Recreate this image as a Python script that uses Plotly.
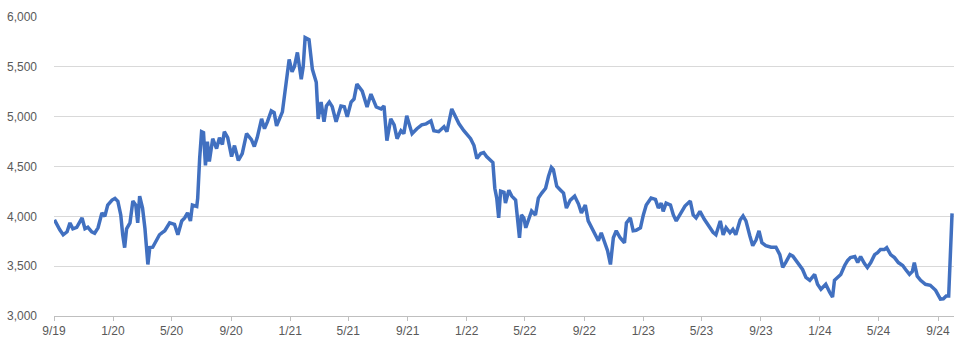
import plotly.graph_objects as go

dates = [
"2019-09-02","2019-09-07","2019-09-13","2019-09-20","2019-09-28","2019-10-04","2019-10-10","2019-10-18","2019-10-29","2019-11-04",
"2019-11-10","2019-11-18","2019-11-24","2019-12-01","2019-12-09","2019-12-15","2019-12-21","2019-12-30","2020-01-05","2020-01-11",
"2020-01-17","2020-01-21","2020-01-25","2020-01-29","2020-02-05","2020-02-11","2020-02-17","2020-02-21","2020-02-25","2020-03-02",
"2020-03-07","2020-03-13","2020-03-17","2020-03-23","2020-03-31","2020-04-06","2020-04-11","2020-04-17","2020-04-27","2020-05-07",
"2020-05-14","2020-05-22","2020-05-28","2020-06-03","2020-06-09","2020-06-13","2020-06-22","2020-06-24","2020-06-28","2020-07-02",
"2020-07-06","2020-07-10","2020-07-14","2020-07-18","2020-07-25","2020-08-02","2020-08-08","2020-08-14","2020-08-18","2020-08-25",
"2020-09-02","2020-09-08","2020-09-16","2020-09-24","2020-10-03","2020-10-13","2020-10-19","2020-10-25","2020-11-03","2020-11-09",
"2020-11-15","2020-11-23","2020-11-29","2020-12-04","2020-12-16","2020-12-22","2020-12-26","2020-12-30","2021-01-05","2021-01-10",
"2021-01-16","2021-01-24","2021-01-28","2021-02-01","2021-02-09","2021-02-16","2021-02-24","2021-02-28","2021-03-06","2021-03-12",
"2021-03-17","2021-03-23","2021-03-29","2021-04-06","2021-04-16","2021-04-23","2021-04-29","2021-05-07","2021-05-13","2021-05-19",
"2021-05-30","2021-06-09","2021-06-17","2021-06-28","2021-07-08","2021-07-14","2021-07-20","2021-07-28","2021-08-04","2021-08-10",
"2021-08-18","2021-08-24","2021-08-30","2021-09-10","2021-09-20","2021-09-30","2021-10-09","2021-10-19","2021-10-25","2021-11-04",
"2021-11-15","2021-11-21","2021-12-01","2021-12-09","2021-12-16","2021-12-26","2022-01-01","2022-01-09","2022-01-16","2022-01-22",
"2022-01-30","2022-02-05","2022-02-11","2022-02-20","2022-02-24","2022-02-28","2022-03-04","2022-03-08","2022-03-12","2022-03-19",
"2022-03-22","2022-03-29","2022-04-04","2022-04-12","2022-04-16","2022-04-20","2022-04-24","2022-04-29","2022-05-03","2022-05-09",
"2022-05-15","2022-05-23","2022-05-29","2022-06-05","2022-06-13","2022-06-19","2022-06-25","2022-06-29","2022-07-06","2022-07-14",
"2022-07-20","2022-07-26","2022-08-03","2022-08-12","2022-08-20","2022-08-26","2022-09-03","2022-09-09","2022-09-16","2022-09-24",
"2022-09-30","2022-10-06","2022-10-15","2022-10-19","2022-10-25","2022-10-31","2022-11-06","2022-11-14","2022-11-23","2022-11-27",
"2022-12-05","2022-12-11","2022-12-17","2022-12-26","2023-01-01","2023-01-07","2023-01-17","2023-01-26","2023-02-01","2023-02-07",
"2023-02-11","2023-02-17","2023-02-26","2023-03-04","2023-03-10","2023-03-18","2023-03-28","2023-04-08","2023-04-14","2023-04-20",
"2023-04-28","2023-05-07","2023-05-15","2023-05-25","2023-05-31","2023-06-09","2023-06-15","2023-06-21","2023-06-29","2023-07-05",
"2023-07-11","2023-07-20","2023-07-26","2023-08-01","2023-08-09","2023-08-15","2023-08-22","2023-08-28","2023-09-03","2023-09-11",
"2023-09-22","2023-10-02","2023-10-10","2023-10-16","2023-10-22","2023-10-31","2023-11-06","2023-11-16","2023-11-26","2023-12-03",
"2023-12-11","2023-12-21","2023-12-27","2024-01-03","2024-01-13","2024-01-21","2024-01-27","2024-01-31","2024-02-07","2024-02-13",
"2024-02-21","2024-02-27","2024-03-04","2024-03-13","2024-03-19","2024-03-25","2024-04-02","2024-04-08","2024-04-15","2024-04-23",
"2024-04-29","2024-05-05","2024-05-13","2024-05-18","2024-05-26","2024-06-03","2024-06-11","2024-06-20","2024-06-26","2024-07-04",
"2024-07-10","2024-07-14","2024-07-20","2024-07-27","2024-08-06","2024-08-16","2024-08-27","2024-09-06","2024-09-12","2024-09-18",
"2024-09-23","2024-09-24","2024-09-25","2024-09-26","2024-09-27","2024-09-30",
]

index_values = [
3965,3915,3865,3815,3845,3934,3875,3890,3984,3875,
3890,3845,3830,3885,4034,4000,4113,4163,4180,4150,
4014,3815,3686,3875,3934,4153,4113,3934,4203,4083,
3875,3517,3686,3690,3765,3815,3835,3855,3934,3920,
3815,3954,3984,4034,3954,4113,4100,4183,4580,4849,
4840,4511,4750,4550,4779,4680,4790,4720,4849,4790,
4600,4710,4560,4630,4829,4770,4700,4790,4978,4880,
4948,5058,5040,4908,5048,5250,5405,5575,5450,5505,
5644,5376,5500,5793,5773,5475,5346,4978,5147,4948,
5107,5147,5100,4948,5107,5100,4998,5147,5177,5326,
5256,5097,5227,5097,5077,5107,4759,4978,4918,4779,
4859,4830,5008,4829,4879,4918,4928,4958,4859,4849,
4898,4850,5077,4998,4928,4859,4829,4779,4710,4580,
4630,4640,4600,4560,4540,4282,4183,3984,4252,4240,
4133,4262,4203,4163,3984,3785,4014,3984,3885,3984,
4054,4014,4183,4233,4282,4402,4491,4470,4302,4262,
4233,4083,4163,4203,4123,4034,4114,3954,3885,3815,
3755,3835,3706,3656,3517,3785,3855,3785,3735,3934,
3984,3855,3860,3885,4014,4113,4183,4170,4083,4133,
4050,4133,4113,4014,3954,4014,4103,4153,4014,3984,
4050,3970,3905,3840,3815,3954,3815,3885,3835,3870,
3815,3964,4004,3954,3805,3706,3765,3855,3735,3706,
3690,3690,3616,3487,3536,3616,3600,3536,3467,3387,
3358,3417,3318,3268,3318,3238,3189,3358,3387,3417,
3507,3556,3586,3596,3536,3596,3526,3487,3536,3616,
3636,3666,3666,3686,3616,3586,3536,3507,3467,3417,
3447,3536,3400,3358,3318,3308,3258,3169,3172,3200,
3201,3353,3400,3510,3703,4030,
]

tick_dates = ["2019-09-01","2020-01-01","2020-05-01","2020-09-01","2021-01-01","2021-05-01",
              "2021-09-01","2022-01-01","2022-05-01","2022-09-01","2023-01-01","2023-05-01",
              "2023-09-01","2024-01-01","2024-05-01","2024-09-01"]
tick_labels = ["9/19","1/20","5/20","9/20","1/21","5/21","9/21","1/22","5/22","9/22",
               "1/23","5/23","9/23","1/24","5/24","9/24"]
y_ticks = [3000, 3500, 4000, 4500, 5000, 5500, 6000]

fig = go.Figure()
fig.add_trace(go.Scatter(
    x=dates, y=index_values, mode="lines",
    line=dict(color="#4170C0", width=3.5), hoverinfo="x+y", showlegend=False,
))

fig.update_layout(
    width=959, height=343,
    margin=dict(l=54, r=5, t=17, b=24),
    paper_bgcolor="white", plot_bgcolor="white",
    font=dict(family="Liberation Sans, Arial, sans-serif", size=12, color="#595959"),
)
fig.update_xaxes(
    type="date",
    range=["2019-09-01", "2024-10-04"],
    tickvals=tick_dates, ticktext=tick_labels,
    showgrid=False, zeroline=False,
    showline=True, linecolor="#bfbfbf", linewidth=1,
    ticks="outside", ticklen=4, tickcolor="#bfbfbf",
    tickfont=dict(size=12, color="#595959"),
)
fig.update_yaxes(
    range=[3000, 6000], tickvals=y_ticks, tickformat=",d",
    showgrid=True, gridcolor="#d9d9d9", gridwidth=1,
    zeroline=False, showline=False, ticks="",
    ticklabelstandoff=16,
    tickfont=dict(size=12, color="#595959"),
)

fig.write_html("out.html")
